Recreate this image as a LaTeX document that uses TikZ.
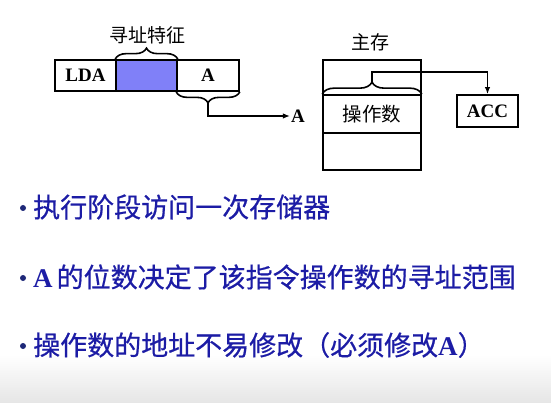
\documentclass[tikz,border=0pt]{standalone}
\usepackage{fontspec}
\setmainfont{Liberation Serif}
\newfontfamily\cjk{Noto Sans CJK SC}
\newfontfamily\cjkb[FakeBold=0.6]{Noto Sans CJK SC}
\usetikzlibrary{decorations.pathreplacing,arrows.meta}
\definecolor{txtblue}{RGB}{28,28,165}
\definecolor{cellblue}{RGB}{128,128,248}
\definecolor{bulletblue}{RGB}{30,40,120}
\begin{document}
\begin{tikzpicture}[x=1pt,y=-1pt,
  cell/.style={draw, line width=1.7pt, inner sep=0pt, minimum height=31pt, font=\fontsize{19}{22}\selectfont\bfseries},
  lbl/.style={inner sep=1pt, font=\fontsize{19}{22}\selectfont},
  brc/.style={decorate, decoration={brace, amplitude=#1}, line width=1.6pt},
  arr/.style={line width=1.6pt, -{Latex[length=7pt,width=5.5pt]}},
  bline/.style={anchor=west, inner sep=0pt, text=txtblue, font=\fontsize{27}{30}\selectfont},
  dot/.style={circle, fill=bulletblue, inner sep=0pt, minimum size=6pt}]
\useasboundingbox (0,0) rectangle (551,403);
\shade[top color=white, bottom color=black!10] (0,355) rectangle (551,403);
% instruction
\node[cell, minimum width=61pt] (lda) at (85.5,75.5) {LDA};
\node[cell, minimum width=61pt, fill=cellblue] (mode) at (146.5,75.5) {};
\node[cell, minimum width=62pt] (acell) at (208,75.5) {A};
\node[lbl] (modelbl) at (147,35) {\cjk 寻址特征};
\draw[brc=11pt] (mode.north west) -- (mode.north east);
\draw[brc=11pt] (acell.south east) -- (acell.south west);
\coordinate (btip) at (208,102);
\node[lbl, font=\fontsize{19}{22}\selectfont\bfseries] (alabel) at (298,116) {A};
\draw[arr] (btip) |- (alabel.west);
% memory
\node[lbl] (memlbl) at (370,42) {\cjk 主存};
\node[cell, minimum width=98pt, minimum height=35pt] (mtop) at (372,77.5) {};
\node[cell, minimum width=98pt, minimum height=38pt, font=\fontsize{19.5}{22}\selectfont] (mop) at (372,114) {\cjk 操作数};
\node[cell, minimum width=98pt, minimum height=37pt] (mbot) at (372,151.5) {};
\draw[brc=12pt] (mop.north west) -- (mop.north east);
\coordinate (mtip) at (372,83);
\coordinate (mbend) at (372,72);
\node[cell, minimum width=61pt, minimum height=32pt] (acc) at (487.5,111) {ACC};
\draw[arr] (mtip) -- (mbend) -| (acc.north);
% bullets
\node[dot] (b1) at (23,208) {};
\node[bline] (l1) at (33,207) {\cjkb 执行阶段访问一次存储器};
\node[dot] (b2) at (23,278) {};
\node[bline] (l2) at (33,277) {\textbf{A}\hspace{4pt}{\cjkb 的位数决定了该指令操作数的寻址范围}};
\node[dot] (b3) at (23,346) {};
\node[bline] (l3) at (33,345) {{\cjkb 操作数的地址不易修改（必须修改}\textbf{A}{\cjkb ）}};
\end{tikzpicture}
\end{document}
